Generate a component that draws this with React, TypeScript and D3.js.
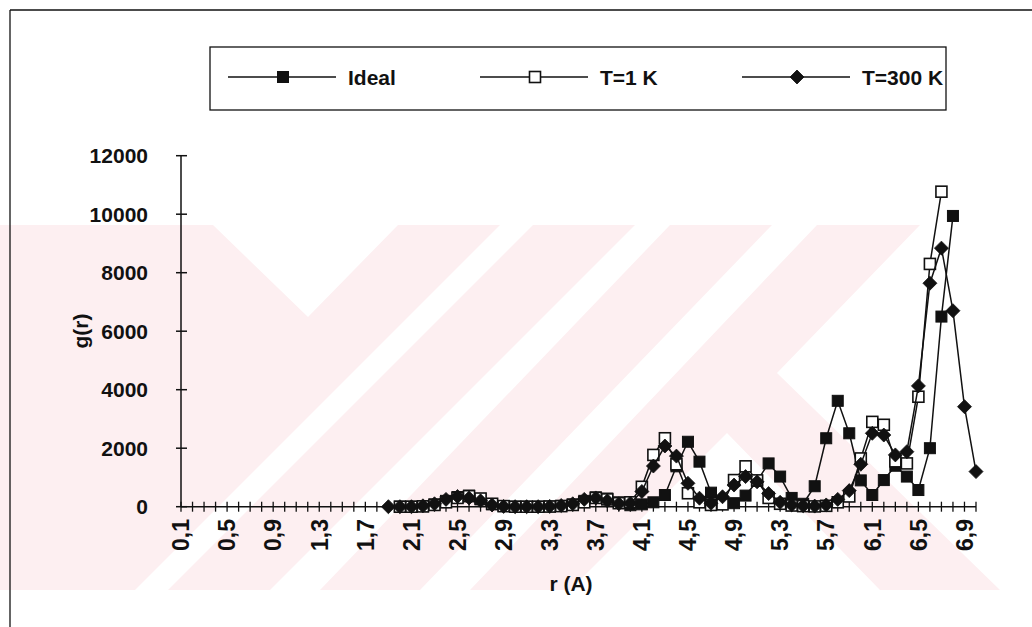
import React from 'react';
import * as d3 from 'd3';

const rValues: number[] = [
  0.1, 0.2, 0.3, 0.4, 0.5, 0.6, 0.7, 0.8, 0.9, 1.0,
  1.1, 1.2, 1.3, 1.4, 1.5, 1.6, 1.7, 1.8, 1.9, 2.0,
  2.1, 2.2, 2.3, 2.4, 2.5, 2.6, 2.7, 2.8, 2.9, 3.0,
  3.1, 3.2, 3.3, 3.4, 3.5, 3.6, 3.7, 3.8, 3.9, 4.0,
  4.1, 4.2, 4.3, 4.4, 4.5, 4.6, 4.7, 4.8, 4.9, 5.0,
  5.1, 5.2, 5.3, 5.4, 5.5, 5.6, 5.7, 5.8, 5.9, 6.0,
  6.1, 6.2, 6.3, 6.4, 6.5, 6.6, 6.7, 6.8, 6.9, 7.0,
];

const N = null;
// 0.1 .. 1.8 have no data
const ideal: (number | null)[] = [
  N, N, N, N, N, N, N, N, N, N,
  N, N, N, N, N, N, N, N, N, 0,
  0, 20, 80, 200, 330, 380, 250, 80, 20, 0,
  0, 0, 10, 30, 80, 200, 320, 280, 150, 50,
  80, 150, 400, 1380, 2220, 1540, 480, 130, 120, 380,
  880, 1480, 1030, 300, 100, 700, 2340, 3620, 2510, 900,
  400, 910, 1400, 1030, 570, 2000, 6500, 9940, N, N,
];

const t1K: (number | null)[] = [
  N, N, N, N, N, N, N, N, N, N,
  N, N, N, N, N, N, N, N, N, 0,
  0, 10, 60, 150, 300, 360, 280, 100, 20, 0,
  0, 0, 5, 20, 60, 150, 300, 250, 120, 150,
  680, 1770, 2340, 1450, 460, 150, 60, 80, 910, 1380,
  900, 300, 100, 40, 20, 10, 30, 150, 350, 1650,
  2900, 2800, 1550, 1480, 3760, 8300, 10770, N, N, N,
];

const t300K: (number | null)[] = [
  N, N, N, N, N, N, N, N, N, N,
  N, N, N, N, N, N, N, N, 0, 0,
  0, 30, 100, 250, 350, 300, 200, 60, 10, 0,
  0, 0, 10, 40, 100, 250, 300, 200, 100, 120,
  520, 1390, 2075, 1730, 800, 290, 120, 340, 740, 1030,
  850, 450, 150, 60, 30, 20, 60, 250, 550, 1450,
  2510, 2450, 1770, 1880, 4130, 7640, 8840, 6700, 3420, 1200,
];

const yTicks: number[] = [0, 2000, 4000, 6000, 8000, 10000, 12000];
const labelEvery = 4;

const seriesNames = ['Ideal', 'T=1 K', 'T=300 K'];

const FONT = '"Liberation Sans", Arial, Helvetica, sans-serif';
const PINK = '#fdeff1';

function Marker({ kind, x, y }: { kind: number; x: number; y: number }) {
  if (kind === 0) {
    return <rect x={x - 5.5} y={y - 5.5} width={11} height={11} fill="#111" stroke="#111" strokeWidth={1} />;
  }
  if (kind === 1) {
    return <rect x={x - 5.5} y={y - 5.5} width={11} height={11} fill="#fff" stroke="#111" strokeWidth={1.6} />;
  }
  return (
    <path d={`M${x},${y - 7}L${x + 7},${y}L${x},${y + 7}L${x - 7},${y}Z`} fill="#111" stroke="#111" strokeWidth={0.8} />
  );
}

export default function App() {
  const W = 1032;
  const H = 627;
  const cats = rValues.map((v) => v.toFixed(1).replace('.', ','));
  const x = d3.scalePoint<string>().domain(cats).range([181, 976]).padding(0);
  const y = d3.scaleLinear().domain([0, 12000]).range([506.7, 155.7]);

  const allSeries = [ideal, t1K, t300K];
  const line = d3
    .line<[string, number | null]>()
    .defined((d) => d[1] !== null)
    .x((d) => x(d[0]) as number)
    .y((d) => y(d[1] as number));

  const axisY = y(0);
  const legendX = [228, 480, 742];

  return (
    <div style={{ position: 'fixed', left: 0, top: 0 }}>
      <svg width={W} height={H} style={{ display: 'block', background: '#fff' }}>
        {/* watermark */}
        <g>
          <polygon points="0,225 213,225 308,317 398,225 500,225 135,590 0,590" fill={PINK} />
          <polygon points="533,225 635,225 270,590 168,590" fill={PINK} />
          <polygon points="670,225 772,225 420,590 320,590" fill={PINK} />
          <polygon points="817,225 920,225 777,373 1000,590 880,590 727,433 570,590 470,590" fill={PINK} />
        </g>

        {/* outer frame */}
        <line x1={10} y1={10} x2={W} y2={10} stroke="#111" strokeWidth={1.3} />
        <line x1={10} y1={10} x2={10} y2={H} stroke="#111" strokeWidth={1.3} />

        {/* legend */}
        <rect x={210} y={47} width={736} height={63} fill="#fff" stroke="#111" strokeWidth={1.3} />
        {seriesNames.map((name, i) => {
          const lx = legendX[i];
          const my = 77;
          return (
            <g key={name}>
              <line x1={lx} y1={my} x2={lx + 108} y2={my} stroke="#111" strokeWidth={1.5} />
              <Marker kind={i} x={lx + 55} y={my} />
              <text x={lx + 120} y={my} dy="0.36em" fontFamily={FONT} fontWeight="bold" fontSize={21} fill="#111">
                {name}
              </text>
            </g>
          );
        })}

        {/* y axis */}
        <line x1={181} y1={y(12000)} x2={181} y2={axisY} stroke="#111" strokeWidth={1.5} />
        {yTicks.map((t) => (
          <g key={t}>
            <line x1={176} x2={187} y1={y(t)} y2={y(t)} stroke="#111" strokeWidth={1.5} />
            <text x={148} y={y(t)} dy="0.36em" textAnchor="end" fontFamily={FONT} fontWeight="bold" fontSize={21} fill="#111">
              {t}
            </text>
          </g>
        ))}
        <text
          transform={`translate(80,331) rotate(-90)`}
          textAnchor="middle"
          dy="0.36em"
          fontFamily={FONT}
          fontWeight="bold"
          fontSize={21}
          fill="#111"
        >
          g(r)
        </text>

        {/* x axis */}
        <line x1={181} y1={axisY} x2={976} y2={axisY} stroke="#111" strokeWidth={1.5} />
        {cats.map((c) => (
          <line key={c} x1={x(c)} x2={x(c)} y1={axisY - 5} y2={axisY + 5} stroke="#111" strokeWidth={1.3} />
        ))}
        {cats.map((c, i) =>
          i % labelEvery === 0 ? (
            <text
              key={'l' + c}
              transform={`translate(${x(c)},519) rotate(-90)`}
              textAnchor="end"
              dy="0.36em"
              fontFamily={FONT}
              fontWeight="bold"
              fontSize={23}
              fill="#111"
            >
              {c}
            </text>
          ) : null
        )}
        <text x={571} y={583} dy="0.36em" textAnchor="middle" fontFamily={FONT} fontWeight="bold" fontSize={21} fill="#111">
          r (A)
        </text>

        {/* series */}
        {allSeries.map((s, si) => {
          const pts: [string, number | null][] = cats.map((c, i) => [c, s[i]]);
          return (
            <g key={si}>
              <path d={line(pts) || ''} fill="none" stroke="#111" strokeWidth={1.5} />
              {pts
                .filter((p) => p[1] !== null)
                .map((p) => (
                  <Marker key={p[0]} kind={si} x={x(p[0]) as number} y={y(p[1] as number)} />
                ))}
            </g>
          );
        })}
      </svg>
    </div>
  );
}
